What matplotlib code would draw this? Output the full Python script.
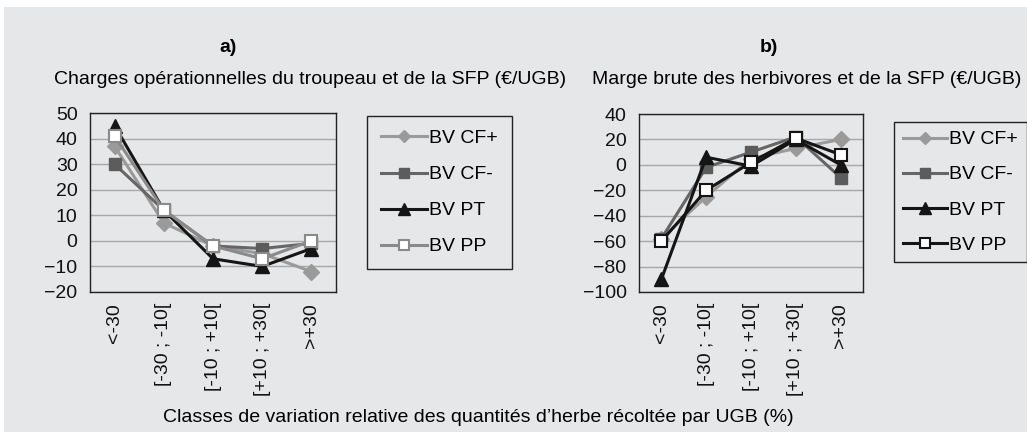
import numpy as np
import matplotlib
matplotlib.use('Agg')
import matplotlib.pyplot as plt
from matplotlib.patches import Rectangle

plt.rcParams['font.family'] = ['Liberation Sans', 'DejaVu Sans']

classes = ['<-30', '[-30 ; -10[', '[-10 ; +10[', '[+10 ; +30[', '>+30']
series = ['BV CF+', 'BV CF-', 'BV PT', 'BV PP']

# a) charges operationnelles (EUR/UGB)
charges_cfp = [37, 7, -2, -5, -12]
charges_cfm = [30, 12, -2, -3, -1]
charges_pt = [45, 12, -7, -10, -3]
charges_pp = [41, 12, -2, -7, 0]

# b) marge brute (EUR/UGB)
marge_cfp = [-58, -25, 5, 13, 20]
marge_cfm = [-58, -2, 10, 22, -10]
marge_pt = [-90, 6, -1, 20, 0]
marge_pp = [-60, -20, 2, 21, 8]

BG = '#e6e7e9'
FS = 14

fig = plt.figure(figsize=(10.27, 4.32), dpi=100, facecolor='white')
fig.patches.append(Rectangle((4 / 1027, 0), 1, 1 - 7 / 432, transform=fig.transFigure,
                             facecolor=BG, edgecolor='none', zorder=-10))


def draw(ax, data, pp_color, ylim, yticks, leg_pos, spacing, bpad, hlen):
    x = np.arange(len(classes))
    styles = [
        dict(color='#9a9a9a', marker='D', markersize=8, mfc='#9a9a9a', mec='#9a9a9a'),
        dict(color='#666666', marker='s', markersize=9, mfc='#5c5c5c', mec='#5c5c5c'),
        dict(color='#151515', marker='^', markersize=10, mfc='#151515', mec='#151515'),
        dict(color=pp_color, marker='s', markersize=9, mfc='white', mec=pp_color, mew=1.5),
    ]
    for vals, st, lab in zip(data, styles, series):
        ax.plot(x, vals, lw=2.2, label=lab, **st)
    ax.set_facecolor(BG)
    ax.set_xlim(-0.5, len(classes) - 0.5)
    ax.set_ylim(*ylim)
    ax.set_yticks(yticks)
    ax.set_xticks(x)
    ax.set_xticklabels(classes, rotation=90, va='top', ha='center')
    ax.tick_params(axis='both', length=0, labelsize=FS, colors='#111111')
    ax.tick_params(axis='y', pad=9)
    ax.tick_params(axis='x', pad=8)
    ax.yaxis.grid(True, color='#a8a8a8', lw=1)
    ax.set_axisbelow(True)
    for s in ax.spines.values():
        s.set_color('#222222')
        s.set_linewidth(1)
    leg = ax.legend(loc='upper left', bbox_to_anchor=leg_pos, bbox_transform=fig.transFigure,
                    fontsize=FS, frameon=True, fancybox=False, edgecolor='#222222',
                    facecolor=BG, framealpha=1, handlelength=hlen, handletextpad=0.1,
                    labelspacing=spacing, borderpad=bpad, borderaxespad=0, markerscale=0.8)
    leg.get_frame().set_linewidth(1)


ax1 = fig.add_axes([90 / 1027, 140 / 432, 246 / 1027, 179 / 432])
draw(ax1, [charges_cfp, charges_cfm, charges_pt, charges_pp], '#8a8a8a',
     (-20, 50), np.arange(-20, 51, 10), (367 / 1027, 1 - 116 / 432), 0.95, 0.7, 2.4)

ax2 = fig.add_axes([639 / 1027, 140 / 432, 224 / 1027, 178 / 432])
draw(ax2, [marge_cfp, marge_cfm, marge_pt, marge_pp], '#151515',
     (-100, 40), np.arange(-100, 41, 20), (894 / 1027, 1 - 122 / 432), 0.9, 0.45, 2.3)

fig.text(228 / 1027, 1 - 48 / 432, 'a)', fontsize=FS, fontweight='bold', ha='center', va='center')
fig.text(769 / 1027, 1 - 48 / 432, 'b)', fontsize=FS, fontweight='bold', ha='center', va='center')
fig.text(310 / 1027, 1 - 79 / 432, 'Charges opérationnelles du troupeau et de la SFP (€/UGB)',
         fontsize=FS, ha='center', va='center')
fig.text(807 / 1027, 1 - 79 / 432, 'Marge brute des herbivores et de la SFP (€/UGB)',
         fontsize=FS, ha='center', va='center')
fig.text(163 / 1027, 1 - 418 / 432, 'Classes de variation relative des quantités d\u2019herbe récoltée par UGB (%)',
         fontsize=FS, ha='left', va='center')

fig.savefig('out.png', dpi=100, facecolor=fig.get_facecolor())
